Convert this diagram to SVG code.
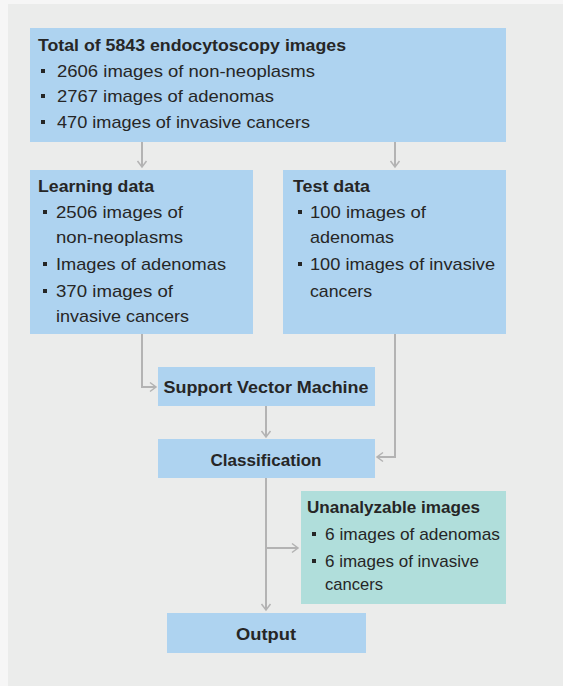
<svg xmlns="http://www.w3.org/2000/svg" width="563" height="686" viewBox="0 0 563 686">
<defs>
<style>
.box{fill:#aed3f0}
.teal{fill:#b0dedb}
.t{font-family:"Liberation Sans",Arial,sans-serif;font-size:17px;fill:#262626}
.b{font-weight:bold}
.c{text-anchor:middle}
.con{fill:none;stroke:#b3b3b3;stroke-width:2}
.dot{fill:#262626}
</style>
<marker id="ah" markerWidth="12" markerHeight="12" refX="10" refY="6" orient="auto" markerUnits="userSpaceOnUse">
<path d="M4,1.5 L10,6 L4,10.5" fill="none" stroke="#b3b3b3" stroke-width="1.5"/>
</marker>
</defs>
<rect x="0" y="0" width="563" height="686" fill="#f6f6f6"/>
<rect x="8" y="4" width="555" height="682" fill="#ebeceb"/>
<g id="connectors">
<path class="con" d="M142 142 V167" marker-end="url(#ah)"/>
<path class="con" d="M395 142 V167" marker-end="url(#ah)"/>
<path class="con" d="M142 334 V387 H156" marker-end="url(#ah)"/>
<path class="con" d="M266 406 V437" marker-end="url(#ah)"/>
<path class="con" d="M395 334 V457 H377" marker-end="url(#ah)"/>
<path class="con" d="M266 478 V610" marker-end="url(#ah)"/>
<path class="con" d="M266 548 H298" marker-end="url(#ah)"/>
</g>
<g id="total">
<rect class="box" x="30" y="28" width="476" height="114"/>
<text class="t b" x="38" y="51" textLength="308" lengthAdjust="spacingAndGlyphs">Total of 5843 endocytoscopy images</text>
<rect class="dot" x="41" y="69" width="4" height="4"/>
<text class="t" x="57" y="77" textLength="258" lengthAdjust="spacingAndGlyphs">2606 images of non-neoplasms</text>
<rect class="dot" x="41" y="94" width="4" height="4"/>
<text class="t" x="57" y="102" textLength="217" lengthAdjust="spacingAndGlyphs">2767 images of adenomas</text>
<rect class="dot" x="41" y="120" width="4" height="4"/>
<text class="t" x="57" y="128" textLength="253" lengthAdjust="spacingAndGlyphs">470 images of invasive cancers</text>
</g>
<g id="learning">
<rect class="box" x="30" y="170" width="223" height="164"/>
<text class="t b" x="38" y="192" textLength="116" lengthAdjust="spacingAndGlyphs">Learning data</text>
<rect class="dot" x="43" y="210" width="4" height="4"/>
<text class="t" x="56" y="218" textLength="127" lengthAdjust="spacingAndGlyphs">2506 images of</text>
<text class="t" x="56" y="243" textLength="127" lengthAdjust="spacingAndGlyphs">non-neoplasms</text>
<rect class="dot" x="43" y="262" width="4" height="4"/>
<text class="t" x="56" y="270" textLength="170" lengthAdjust="spacingAndGlyphs">Images of adenomas</text>
<rect class="dot" x="43" y="289" width="4" height="4"/>
<text class="t" x="56" y="297" textLength="117" lengthAdjust="spacingAndGlyphs">370 images of</text>
<text class="t" x="56" y="322" textLength="133" lengthAdjust="spacingAndGlyphs">invasive cancers</text>
</g>
<g id="test">
<rect class="box" x="283" y="170" width="223" height="164"/>
<text class="t b" x="293" y="192" textLength="77" lengthAdjust="spacingAndGlyphs">Test data</text>
<rect class="dot" x="298" y="210" width="4" height="4"/>
<text class="t" x="310" y="218" textLength="116" lengthAdjust="spacingAndGlyphs">100 images of</text>
<text class="t" x="310" y="243" textLength="84" lengthAdjust="spacingAndGlyphs">adenomas</text>
<rect class="dot" x="298" y="262" width="4" height="4"/>
<text class="t" x="310" y="270" textLength="185" lengthAdjust="spacingAndGlyphs">100 images of invasive</text>
<text class="t" x="310" y="297" textLength="62" lengthAdjust="spacingAndGlyphs">cancers</text>
</g>
<g id="svm">
<rect class="box" x="158" y="367" width="217" height="39"/>
<text class="t b c" x="266" y="393" textLength="205" lengthAdjust="spacingAndGlyphs">Support Vector Machine</text>
</g>
<g id="classification">
<rect class="box" x="158" y="439" width="217" height="39"/>
<text class="t b c" x="266" y="466" textLength="111" lengthAdjust="spacingAndGlyphs">Classification</text>
</g>
<g id="unanalyzable">
<rect class="teal" x="301" y="491" width="205" height="113"/>
<text class="t b" x="307" y="513" textLength="173" lengthAdjust="spacingAndGlyphs">Unanalyzable images</text>
<rect class="dot" x="312" y="532" width="4" height="4"/>
<text class="t" x="325" y="540" textLength="175" lengthAdjust="spacingAndGlyphs">6 images of adenomas</text>
<rect class="dot" x="312" y="559" width="4" height="4"/>
<text class="t" x="325" y="567" textLength="154" lengthAdjust="spacingAndGlyphs">6 images of invasive</text>
<text class="t" x="325" y="590" textLength="58" lengthAdjust="spacingAndGlyphs">cancers</text>
</g>
<g id="output">
<rect class="box" x="167" y="613" width="199" height="40"/>
<text class="t b c" x="266" y="640" textLength="60" lengthAdjust="spacingAndGlyphs">Output</text>
</g>
</svg>
